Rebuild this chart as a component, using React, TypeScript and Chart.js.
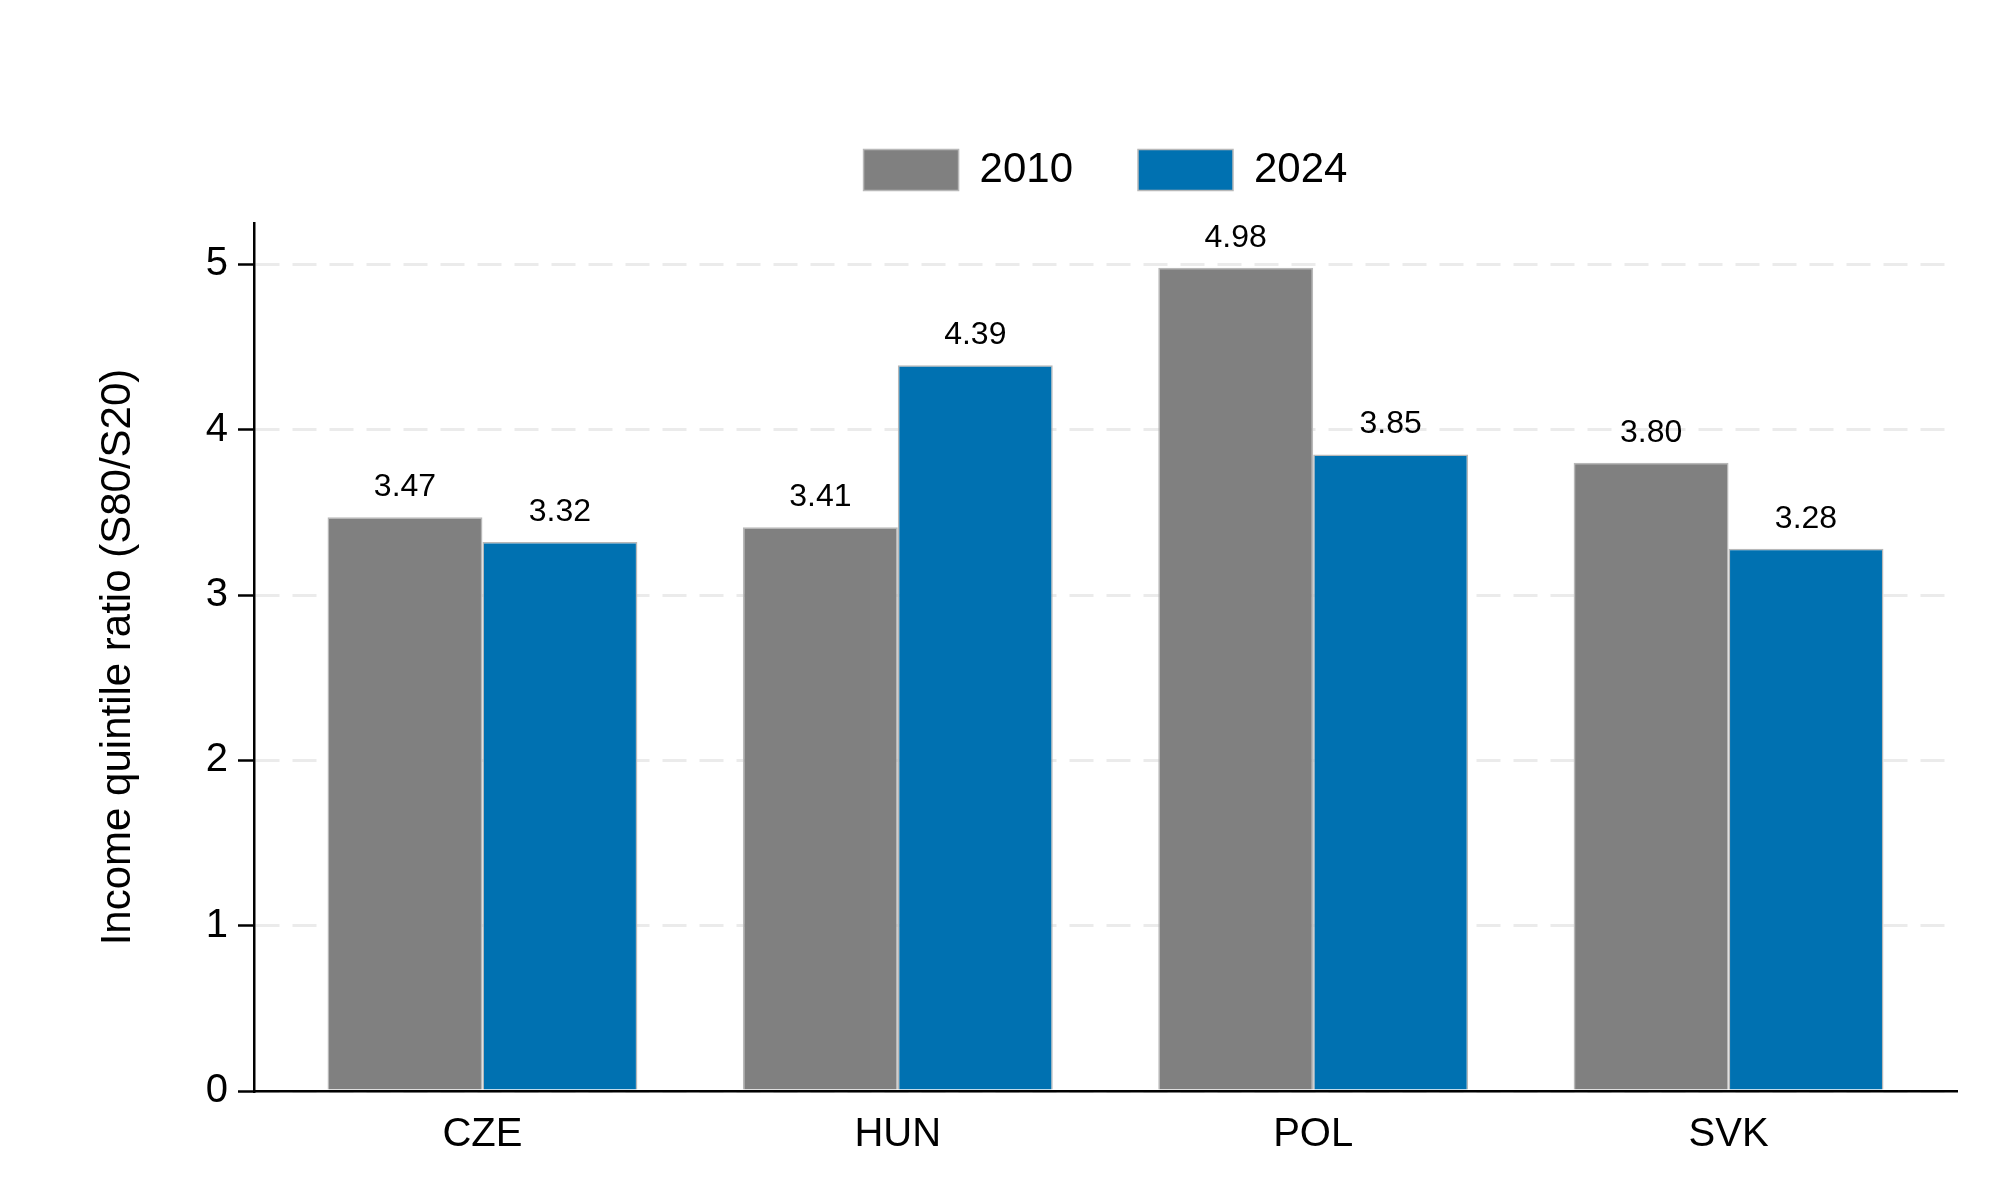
import React, { useEffect, useRef } from 'react';
import { Chart, registerables } from 'chart.js';

Chart.register(...registerables);

const categories = ['CZE', 'HUN', 'POL', 'SVK'];
const seriesLabels = ['2010', '2024'];
const values2010 = [3.47, 3.41, 4.98, 3.8];
const values2024 = [3.32, 4.39, 3.85, 3.28];
const yTicks = [0, 1, 2, 3, 4, 5];
const yMax = 5.25;
const xMin = -0.55;
const xMax = 3.55;
const yTitle = 'Income quintile ratio (S80/S20)';

const FONT = '"Liberation Sans", Arial, Helvetica, sans-serif';

const valueLabels = {
  id: 'valueLabels',
  afterDatasetsDraw(chart: any) {
    const ctx = chart.ctx;
    ctx.save();
    ctx.font = `32px ${FONT}`;
    ctx.fillStyle = '#000';
    ctx.textAlign = 'center';
    ctx.textBaseline = 'alphabetic';
    chart.data.datasets.forEach((ds: any, di: number) => {
      const meta = chart.getDatasetMeta(di);
      meta.data.forEach((el: any, i: number) => {
        const v = ds.data[i].y as number;
        ctx.fillText(v.toFixed(2), el.x, el.y - 21);
      });
    });
    ctx.restore();
  },
};

export default function App() {
  const ref = useRef<HTMLCanvasElement | null>(null);

  useEffect(() => {
    if (!ref.current) return;
    Chart.defaults.font.family = FONT;
    Chart.defaults.color = '#000';
    const toPoints = (arr: number[]) => arr.map((v, i) => ({ x: i, y: v }));
    const chart = new Chart(ref.current, {
      type: 'bar',
      data: {
        datasets: [
          {
            label: seriesLabels[0],
            data: toPoints(values2010),
            backgroundColor: '#808080',
            borderColor: '#b8b8b8',
            borderWidth: 1.5,
            categoryPercentage: 0.746,
            barPercentage: 1,
          },
          {
            label: seriesLabels[1],
            data: toPoints(values2024),
            backgroundColor: '#0071b1',
            borderColor: '#b8b8b8',
            borderWidth: 1.5,
            categoryPercentage: 0.746,
            barPercentage: 1,
          },
        ],
      } as any,
      options: {
        animation: false,
        responsive: false,
        devicePixelRatio: 1,
        layout: { padding: { top: 84, right: 43, bottom: 0, left: 0 } },
        plugins: {
          legend: {
            position: 'top',
            fullSize: false,
            labels: {
              boxWidth: 95,
              boxHeight: 41,
              padding: 65,
              color: '#000',
              font: { size: 42, family: FONT },
            },
          },
          subtitle: {
            display: true,
            text: '',
            weight: 500,
            fullSize: false,
            padding: 0,
            font: { size: 22, lineHeight: 1 },
          } as any,
          tooltip: { enabled: false },
        },
        scales: {
          x: {
            type: 'linear',
            min: xMin,
            max: xMax,
            offset: false,
            bounds: 'data',
            grid: { display: false, drawTicks: false, offset: false },
            border: { display: true, color: '#000', width: 2.5 },
            afterBuildTicks: (scale: any) => {
              scale.ticks = categories.map((_, i) => ({ value: i }));
            },
            afterFit: (scale: any) => {
              scale.height = 109;
            },
            ticks: {
              autoSkip: false,
              maxRotation: 0,
              padding: 20,
              color: '#000',
              font: { size: 40, family: FONT },
              callback: (v: any) => categories[Math.round(Number(v))] ?? '',
            },
          },
          y: {
            type: 'linear',
            min: 0,
            max: yMax,
            afterBuildTicks: (scale: any) => {
              scale.ticks = yTicks.map((v) => ({ value: v }));
            },
            afterFit: (scale: any) => {
              scale.width = 254;
            },
            grid: {
              color: '#ebebeb',
              lineWidth: 3,
              drawTicks: true,
              tickLength: 16,
              tickColor: '#000',
              tickWidth: 2.5,
              tickBorderDash: [],
            } as any,
            border: { display: true, color: '#000', width: 2.5, dash: [24, 13] } as any,
            ticks: {
              padding: 10,
              color: '#000',
              font: { size: 40, family: FONT },
              callback: (v: any) => String(v),
            },
            title: {
              display: true,
              text: yTitle,
              color: '#000',
              font: { size: 42, family: FONT },
              padding: { top: 93, bottom: 0 },
            },
          },
        },
      } as any,
      plugins: [valueLabels],
    });
    return () => chart.destroy();
  }, []);

  return (
    <div style={{ position: 'absolute', left: 0, top: 0, width: 2000, height: 1200, background: '#fff' }}>
      <canvas ref={ref} width={2000} height={1200} style={{ width: 2000, height: 1200 }} />
    </div>
  );
}
